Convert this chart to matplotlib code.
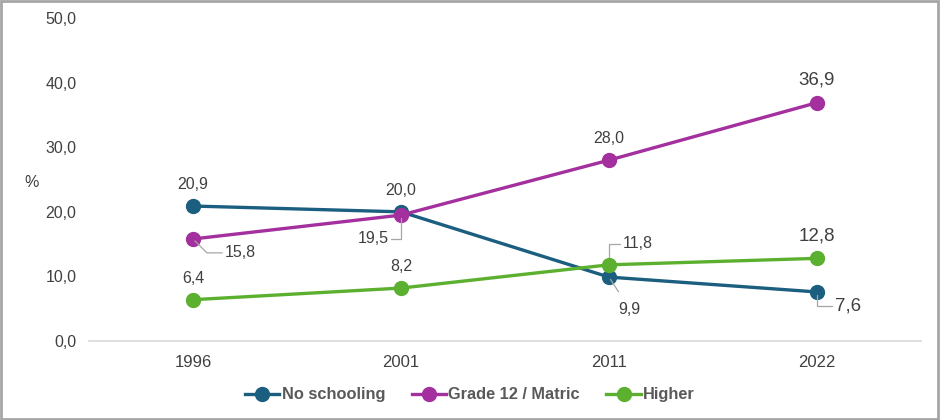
import matplotlib.pyplot as plt
from matplotlib.patches import Rectangle

plt.rcParams['font.family'] = ['Liberation Sans', 'DejaVu Sans']

years = ['1996', '2001', '2011', '2022']
no_schooling = [20.9, 20.0, 9.9, 7.6]
matric = [15.8, 19.5, 28.0, 36.9]
higher = [6.4, 8.2, 11.8, 12.8]

c_none = '#1b5e80'
c_matric = '#a3309e'
c_higher = '#5cb030'
txt = '#404040'

fig = plt.figure(figsize=(9.4, 4.2), dpi=100)
ax = fig.add_axes([0.0947, 0.188, 0.885, 0.769])

x = list(range(len(years)))
ax.plot(x, no_schooling, color=c_none, lw=2.4, marker='o', ms=10, label='No schooling', zorder=3)
ax.plot(x, matric, color=c_matric, lw=2.4, marker='o', ms=10, label='Grade 12 / Matric', zorder=3)
ax.plot(x, higher, color=c_higher, lw=2.4, marker='o', ms=10, label='Higher', zorder=4)

ax.set_xlim(-0.5, 3.5)
ax.set_ylim(0, 50)
ax.set_yticks([0, 10, 20, 30, 40, 50])
ax.set_yticklabels([f'{v:.1f}'.replace('.', ',') for v in [0, 10, 20, 30, 40, 50]])
ax.set_xticks(x)
ax.set_xticklabels(years)
ax.tick_params(length=0, colors=txt)
ax.tick_params(axis='x', pad=10, labelsize=12)
ax.tick_params(axis='y', pad=9, labelsize=11.5)
for s in ['top', 'right', 'left']:
    ax.spines[s].set_visible(False)
ax.spines['bottom'].set_color('#d9d9d9')
ax.spines['bottom'].set_linewidth(1.2)

fig.text(0.034, 0.565, '%', fontsize=11.5, color=txt, ha='center', va='center')

def fmt(v):
    return f'{v:.1f}'.replace('.', ',')

lead = dict(arrowstyle='-', color='#a6a6a6', lw=0.9, shrinkA=0, shrinkB=2)
fs = 11.5
fs_big = 13.5

# plain labels above the points
above = [(no_schooling, 0), (no_schooling, 1), (higher, 0), (higher, 1), (matric, 2)]
for series, i in above:
    ax.annotate(fmt(series[i]), (i, series[i]), xytext=(0, 10), textcoords='offset points',
                ha='center', va='bottom', fontsize=fs, color=txt)
for series, i in [(matric, 3), (higher, 3)]:
    ax.annotate(fmt(series[i]), (i, series[i]), xytext=(0, 10), textcoords='offset points',
                ha='center', va='bottom', fontsize=fs_big, color=txt)

# labels with leader lines
ax.annotate(fmt(matric[0]), (0, matric[0]), xytext=(23, -10), textcoords='offset points',
            ha='left', va='center', fontsize=fs, color=txt,
            arrowprops=dict(lead, connectionstyle='angle,angleA=0,angleB=-45,rad=0'))
ax.annotate(fmt(matric[1]), (1, matric[1]), xytext=(-9, -17), textcoords='offset points',
            ha='right', va='center', fontsize=fs, color=txt,
            arrowprops=dict(lead, connectionstyle='angle,angleA=0,angleB=90,rad=0'))
ax.annotate(fmt(higher[2]), (2, higher[2]), xytext=(10, 15), textcoords='offset points',
            ha='left', va='center', fontsize=fs, color=txt,
            arrowprops=dict(lead, connectionstyle='angle,angleA=0,angleB=90,rad=0'))
ax.annotate(fmt(no_schooling[2]), (2, no_schooling[2]), xytext=(15, -23), textcoords='offset points',
            ha='center', va='center', fontsize=fs, color=txt,
            arrowprops=dict(lead, shrinkA=6))
ax.annotate(fmt(no_schooling[3]), (3, no_schooling[3]), xytext=(13, -10), textcoords='offset points',
            ha='left', va='center', fontsize=fs_big, color=txt,
            arrowprops=dict(lead, connectionstyle='angle,angleA=0,angleB=90,rad=0'))

leg = fig.legend(loc='center', bbox_to_anchor=(0.5, 0.06), ncol=3, frameon=False,
                 prop={'weight': 'bold', 'size': 11.8}, handlelength=2.1, columnspacing=1.6,
                 handletextpad=0.15)
for t in leg.get_texts():
    t.set_color('#595959')

fig.patches.append(Rectangle((0.001, 0.002), 0.997, 0.996, transform=fig.transFigure,
                             fill=False, edgecolor='#a6a6a6', lw=2))

fig.savefig('out.png', dpi=100)
